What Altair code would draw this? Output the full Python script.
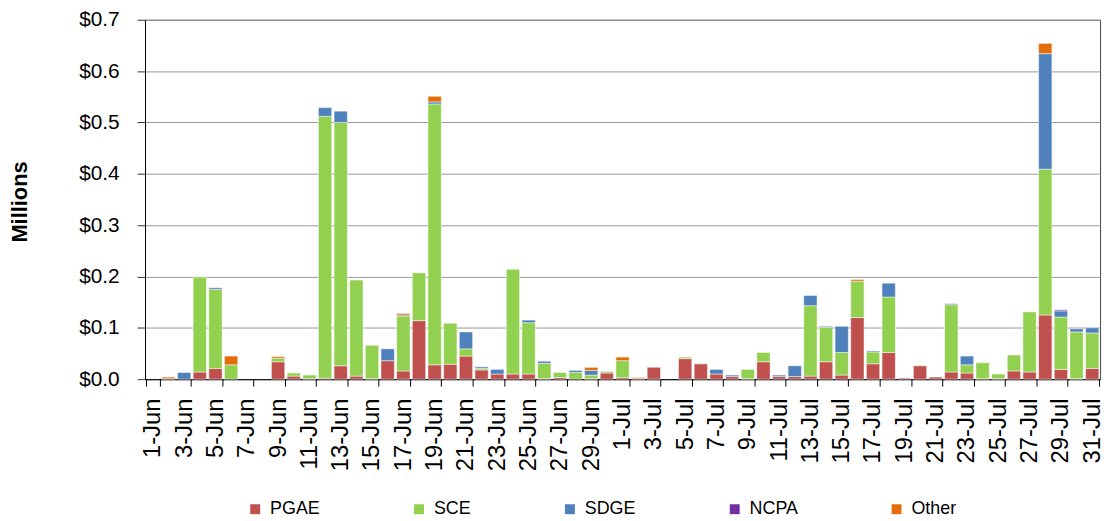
import altair as alt
import pandas as pd

days = [f"{d}-Jun" for d in range(1, 31)] + [f"{d}-Jul" for d in range(1, 32)]
label_days = days[0::2]

companies = ["PGAE", "SCE", "SDGE", "NCPA", "Other"]
colors = ["#C0504D", "#92D050", "#4F81BD", "#7030A0", "#E46C0A"]

pgae = [0, 0.001, 0, 0.014, 0.021, 0, 0, 0, 0.034, 0.006,
        0.001, 0.002, 0.026, 0.006, 0.001, 0.036, 0.016, 0.114, 0.028, 0.029,
        0.045, 0.018, 0.010, 0.010, 0.010, 0.001, 0.003, 0, 0.001, 0.012,
        0.003, 0.001, 0.023, 0, 0.040, 0.030, 0.010, 0.005, 0.001, 0.034,
        0.005, 0.005, 0.006, 0.034, 0.008, 0.120, 0.030, 0.052, 0.002, 0.026,
        0.004, 0.014, 0.012, 0.001, 0.001, 0.016, 0.014, 0.125, 0.019, 0.001,
        0.021]
sce = [0, 0, 0, 0.185, 0.154, 0.028, 0, 0, 0.007, 0.006,
       0.007, 0.510, 0.474, 0.187, 0.065, 0, 0.107, 0.093, 0.508, 0.080,
       0.014, 0.003, 0, 0.204, 0.100, 0.030, 0.010, 0.013, 0.007, 0.003,
       0.033, 0, 0, 0, 0.003, 0.001, 0, 0, 0.018, 0.018,
       0, 0, 0.137, 0.067, 0.044, 0.071, 0.023, 0.108, 0, 0,
       0, 0.131, 0.016, 0.031, 0.009, 0.031, 0.117, 0.284, 0.102, 0.091,
       0.069]
sdge = [0, 0, 0.013, 0, 0.003, 0, 0, 0, 0, 0,
        0, 0.017, 0.022, 0, 0, 0.023, 0.002, 0, 0.004, 0,
        0.033, 0.003, 0.009, 0, 0.005, 0.004, 0, 0.004, 0.009, 0,
        0, 0, 0, 0, 0, 0, 0.009, 0.003, 0, 0,
        0.003, 0.021, 0.020, 0.002, 0.051, 0, 0.002, 0.027, 0, 0,
        0, 0.002, 0.017, 0, 0, 0, 0, 0.225, 0.012, 0.006,
        0.010]
ncpa = [0, 0, 0, 0, 0, 0, 0, 0, 0, 0,
        0, 0, 0, 0, 0, 0, 0, 0, 0, 0,
        0, 0, 0, 0, 0, 0, 0, 0, 0, 0,
        0, 0, 0, 0, 0, 0, 0, 0, 0, 0,
        0, 0, 0, 0, 0, 0, 0, 0, 0, 0,
        0, 0, 0, 0, 0, 0, 0, 0, 0.002, 0,
        0]
other = [0, 0.003, 0, 0, 0, 0.017, 0, 0, 0.003, 0,
         0, 0, 0, 0, 0, 0, 0.003, 0, 0.011, 0,
         0, 0, 0, 0, 0, 0, 0, 0, 0.006, 0,
         0.007, 0.002, 0, 0, 0, 0, 0, 0, 0, 0,
         0, 0, 0, 0, 0, 0.003, 0, 0, 0, 0,
         0, 0, 0, 0, 0, 0, 0, 0.020, 0, 0,
         0]

series = [pgae, sce, sdge, ncpa, other]
rows = []
for k, (name, vals) in enumerate(zip(companies, series)):
    for d, v in zip(days, vals):
        if v > 0:
            rows.append({"day": d, "company": name, "value": v, "ord": k})
df = pd.DataFrame(rows)

chart = alt.Chart(df).mark_bar(
    stroke="white", strokeWidth=0.8, strokeOpacity=0.6
).encode(
    x=alt.X("day:N",
            scale=alt.Scale(domain=days, paddingInner=0.15, paddingOuter=0.075),
            axis=alt.Axis(values=label_days, tickBand="extent", labelAngle=270,
                          labelFontSize=24, labelPadding=12, tickSize=7,
                          title=None, labelOverlap=False, domainColor="black",
                          tickColor="black", labelColor="black", grid=False)),
    y=alt.Y("value:Q", stack="zero",
            scale=alt.Scale(domain=[0, 0.7], nice=False),
            axis=alt.Axis(values=[0, 0.1, 0.2, 0.3, 0.4, 0.5, 0.6, 0.7],
                          format="$.1f", title="Millions", titleFontSize=22,
                          titleFontWeight="bold", titleColor="black",
                          titleX=-114, titleY=183,
                          labelFontSize=21, labelPadding=18, tickSize=8,
                          labelColor="black", domainColor="black",
                          tickColor="#333", gridColor="#999", labelFlush=False)),
    color=alt.Color("company:N",
                    scale=alt.Scale(domain=companies, range=colors),
                    legend=alt.Legend(title=None, orient="none", legendX=102,
                                      legendY=484, direction="horizontal",
                                      symbolType="square", symbolSize=100,
                                      labelFontSize=18, labelOffset=6,
                                      columnPadding=90, padding=0,
                                      symbolStrokeWidth=0, labelColor="black")),
    order=alt.Order("ord:Q", sort="ascending"),
).properties(
    width=962, height=362,
    autosize=alt.AutoSizeParams(type="none"),
    padding={"left": 138, "top": 10, "right": 8, "bottom": 141},
).configure(font="Liberation Sans").configure_view(stroke="#444")

chart.save("out.html", embed_options={"renderer": "svg", "actions": False})
